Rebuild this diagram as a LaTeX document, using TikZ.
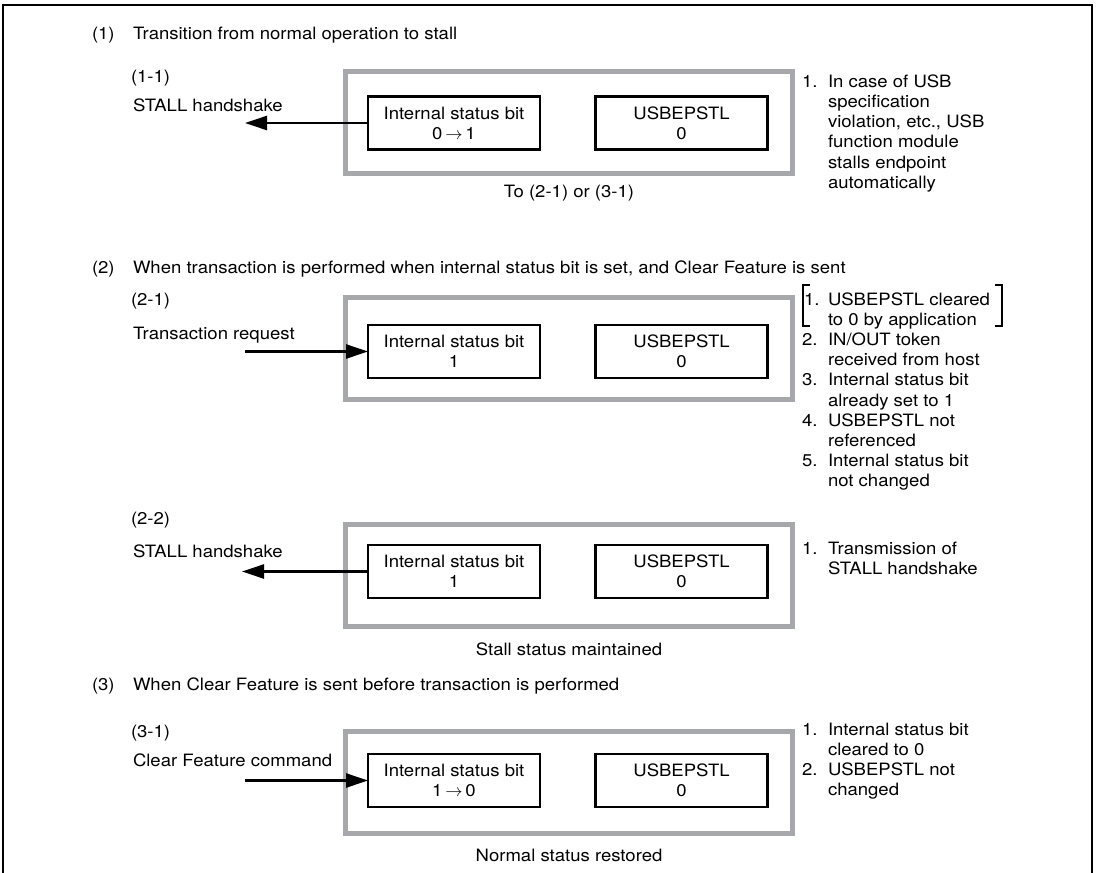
\documentclass[tikz,border=0pt]{standalone}
\usepackage{fontspec}
\setmainfont{TeX Gyre Heros}[FakeStretch=1.09]
\usetikzlibrary{arrows.meta}
\definecolor{boxgray}{RGB}{166,168,171}
\newcommand{\itm}[1]{\makebox[26pt][l]{#1}}
\newcommand{\goesto}{\,$\rightarrow$\,}
\begin{document}
\begin{tikzpicture}[x=1pt,y=-1pt,
  every node/.style={inner sep=0pt, outer sep=0pt, font=\fontsize{17}{20.2}\selectfont},
  txt/.style={anchor=base west},
  ctxt/.style={anchor=base},
  graybox/.style={draw=boxgray, line width=5pt, minimum width=447pt, minimum height=102pt},
  bitbox/.style={draw=black, line width=2.2pt, minimum width=172pt, minimum height=53pt, align=center,
                 font=\fontsize{17}{20}\selectfont},
  arr/.style={line width=2.5pt, -{Triangle[length=22pt,width=14pt]}},
  brk/.style={line width=2.3pt},
  notes/.style={anchor=base west}
]
\useasboundingbox (0,0) rectangle (1101,873);
% outer frame (open at bottom)
\draw[line width=2.5pt] (3,873) -- (3,5) -- (1092,5) -- (1092,873);

% ---------- (1) ----------
\node[txt] (n1) at (92,39) {(1)};
\node[txt] (t1) at (133,39) {Transition from normal operation to stall};
\node[txt] (l11) at (131,82) {(1-1)};
\node[txt] (s11) at (133,111) {STALL handshake};
\node[graybox] (g1) at (569,122) {};
\node[bitbox] (a1) at (454,123) {Internal status bit\\0\goesto 1};
\node[bitbox] (b1) at (681.5,123) {USBEPSTL\\0};
\coordinate (e1) at (245,123);
\draw[arr] (a1.west) -- (e1);
\node[ctxt] (c1) at (569,197) {To (2-1) or (3-1)};
\node[notes] (m1) at (802,87.3) {\begin{tabular}[t]{@{}l@{}}
\itm{1.}In case of USB\\
\itm{}specification\\
\itm{}violation, etc., USB\\
\itm{}function module\\
\itm{}stalls endpoint\\
\itm{}automatically
\end{tabular}};

% ---------- (2) ----------
\node[txt] (n2) at (92,273) {(2)};
\node[txt] (t2) at (133,273) {When transaction is performed when internal status bit is set, and Clear Feature is sent};
\node[txt] (l21) at (131,305) {(2-1)};
\node[txt] (s21) at (133,339) {Transaction request};
\node[graybox] (g2) at (569,348) {};
\node[bitbox] (a2) at (454,351.5) {Internal status bit\\1};
\node[bitbox] (b2) at (681.5,351.5) {USBEPSTL\\0};
\coordinate (e2) at (245,351.5);
\draw[arr] (e2) -- (a2.west);
\node[notes] (m2) at (802,305) {\begin{tabular}[t]{@{}l@{}}
\itm{\hspace{2pt}1.}USBEPSTL cleared\\
\itm{}to 0 by application\\
\itm{2.}IN/OUT token\\
\itm{}received from host\\
\itm{3.}Internal status bit\\
\itm{}already set to 1\\
\itm{4.}USBEPSTL not\\
\itm{}referenced\\
\itm{5.}Internal status bit\\
\itm{}not changed
\end{tabular}};
\draw[brk] (810,285) -- (803,285) -- (803,326) -- (810,326);
\draw[brk] (995,285) -- (1002,285) -- (1002,326) -- (995,326);

\node[txt] (l22) at (131,524) {(2-2)};
\node[txt] (s22) at (133,557) {STALL handshake};
\node[graybox] (g3) at (569,575) {};
\node[bitbox] (a3) at (454,571.5) {Internal status bit\\1};
\node[bitbox] (b3) at (681.5,571.5) {USBEPSTL\\0};
\coordinate (e3) at (242,571.5);
\draw[arr] (a3.west) -- (e3);
\node[ctxt] (c3) at (569,655) {Stall status maintained};
\node[notes] (m3) at (802,554) {\begin{tabular}[t]{@{}l@{}}
\itm{1.}Transmission of\\
\itm{}STALL handshake
\end{tabular}};

% ---------- (3) ----------
\node[txt] (n3) at (92,690) {(3)};
\node[txt] (t3) at (133,690) {When Clear Feature is sent before transaction is performed};
\node[txt] (l31) at (131,737) {(3-1)};
\node[txt] (s31) at (133,766) {Clear Feature command};
\node[graybox] (g4) at (569,782) {};
\node[bitbox] (a4) at (454,780.5) {Internal status bit\\1\goesto 0};
\node[bitbox] (b4) at (681.5,780.5) {USBEPSTL\\0};
\coordinate (e4) at (245,780.5);
\draw[arr] (e4) -- (a4.west);
\node[ctxt] (c4) at (569,861) {Normal status restored};
\node[notes] (m4) at (802,735) {\begin{tabular}[t]{@{}l@{}}
\itm{1.}Internal status bit\\
\itm{}cleared to 0\\
\itm{2.}USBEPSTL not\\
\itm{}changed
\end{tabular}};
\end{tikzpicture}
\end{document}
